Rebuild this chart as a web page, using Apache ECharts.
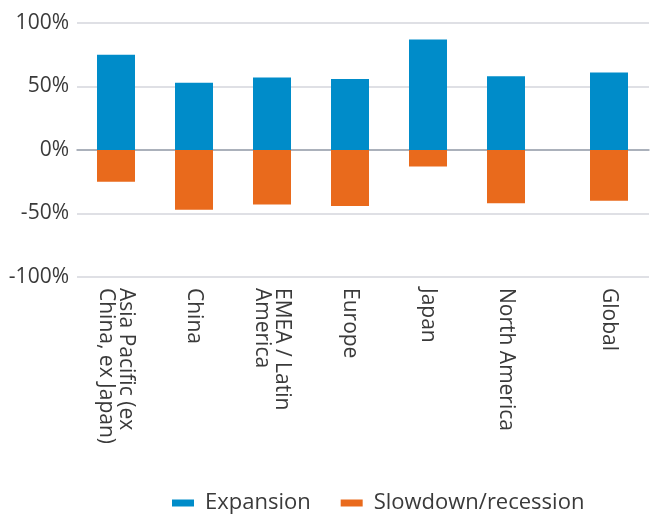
<!DOCTYPE html>
<html>
<head>
<meta charset="utf-8">
<script src="https://cdn.jsdelivr.net/npm/echarts@6/dist/echarts.min.js"></script>
<style>
  html, body { margin: 0; padding: 0; background: #fff; }
  #chart { width: 653px; height: 518px; }
</style>
</head>
<body>
<div id="chart"></div>
<script>
const categories = ['Asia Pacific (ex\nChina, ex Japan)', 'China', 'EMEA / Latin\nAmerica', 'Europe', 'Japan', 'North America', 'Global'];
const expansion = [75, 53, 57, 56, 87, 58, 61];
const slowdown = [-25, -47, -43, -44, -13, -42, -40];
const yTicks = { min: -100, max: 100, interval: 50 };

const blue = '#008cc9';
const orange = '#e96a1c';
const textColor = '#3a3a3a';
const font = 'Open Sans';

// regions and the separate "Global" column live in their own grids
const regionCats = categories.slice(0, 6);
const globalCats = categories.slice(6);

const plotTop = 23;
const plotBottom = 241;

function hiddenY(gridIndex) {
  return {
    type: 'value', gridIndex, min: yTicks.min, max: yTicks.max, interval: yTicks.interval,
    axisLabel: { show: false }, axisLine: { show: false }, axisTick: { show: false },
    splitLine: { show: false },
  };
}

function catAxis(gridIndex, data) {
  return {
    type: 'category', gridIndex, data,
    axisLine: { show: false, onZero: false },
    axisTick: { show: false },
    axisLabel: {
      rotate: -90, margin: 11, color: textColor, fontFamily: font, fontSize: 21,
      lineHeight: 20, interval: 0,
    },
  };
}

function bars(name, data, axisIndex, color) {
  return {
    name, type: 'bar', stack: 'v' + axisIndex, xAxisIndex: axisIndex, yAxisIndex: axisIndex,
    barWidth: 38, itemStyle: { color }, data, silent: true,
  };
}

const chart = echarts.init(document.getElementById('chart'));
chart.setOption({
  animation: false,
  legend: {
    left: 167, bottom: -1,
    itemWidth: 22, itemHeight: 7, itemGap: 30,
    icon: 'rect',
    textStyle: { color: textColor, fontFamily: font, fontSize: 22, padding: [0, 0, 0, 6] },
    data: ['Expansion', 'Slowdown/recession'],
  },
  grid: [
    { left: 77, right: 4, top: plotTop, bottom: plotBottom },
    { left: 77, width: 468, top: plotTop, bottom: plotBottom },
    { left: 570, width: 78, top: plotTop, bottom: plotBottom },
  ],
  xAxis: [
    {
      type: 'category', gridIndex: 0, data: [''],
      axisLine: { show: true, onZero: true, lineStyle: { color: '#9aa1ad', width: 1.5 } },
      axisTick: { show: false }, axisLabel: { show: false },
    },
    catAxis(1, regionCats),
    catAxis(2, globalCats),
  ],
  yAxis: [
    {
      type: 'value', gridIndex: 0, min: yTicks.min, max: yTicks.max, interval: yTicks.interval,
      axisLine: { show: false }, axisTick: { show: false },
      axisLabel: { formatter: '{value}%', color: textColor, fontFamily: font, fontSize: 21, margin: 8 },
      splitLine: { lineStyle: { color: '#d5d6dc', width: 1.5 } },
    },
    hiddenY(1),
    hiddenY(2),
  ],
  series: [
    bars('Expansion', expansion.slice(0, 6), 1, blue),
    bars('Slowdown/recession', slowdown.slice(0, 6), 1, orange),
    bars('Expansion', expansion.slice(6), 2, blue),
    bars('Slowdown/recession', slowdown.slice(6), 2, orange),
  ],
});
</script>
</body>
</html>
